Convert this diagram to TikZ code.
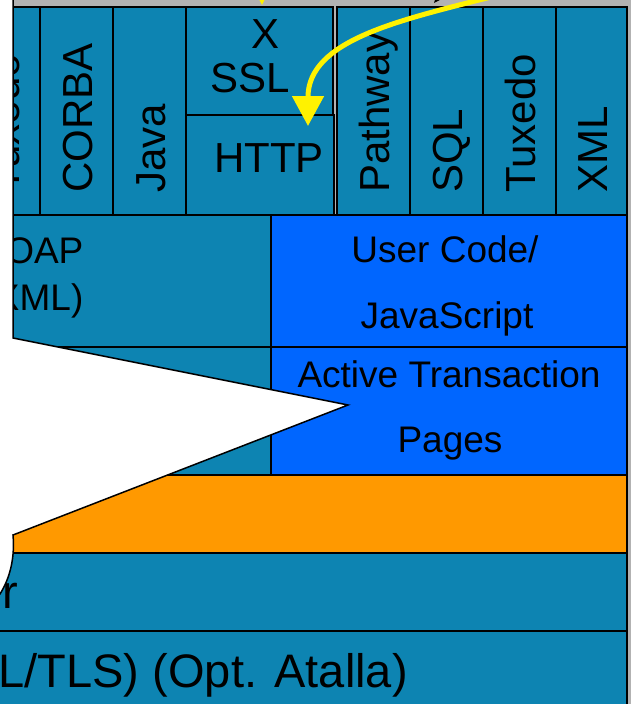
\documentclass[tikz,border=0pt]{standalone}
\usepackage{fontspec}
\setmainfont{Liberation Sans}
\usetikzlibrary{arrows.meta}
\definecolor{tealbox}{RGB}{13,132,178}
\definecolor{bluebox}{RGB}{0,102,255}
\definecolor{orangebox}{RGB}{255,153,0}
\definecolor{framegray}{RGB}{178,178,178}

\begin{document}
\begin{tikzpicture}[x=1pt,y=-1pt,
  box/.style={draw=black,line width=1.5pt,fill=tealbox},
  lbl/.style={font=\fontsize{42}{48}\selectfont,inner sep=0pt,anchor=base},
  vlbl/.style={lbl,rotate=90,anchor=base west},
  mlbl/.style={lbl,font=\fontsize{37}{42}\selectfont},
  blbl/.style={lbl,font=\fontsize{47}{52}\selectfont,anchor=base east},
  yarrow/.style={draw=yellow,line width=5pt,-{Triangle[length=30pt,width=31pt]}}]
\useasboundingbox (0,0) rectangle (631,704);
\fill[framegray] (13,0) rectangle (631,704);
% protocol columns
\foreach \a/\b/\t [count=\i] in {-33/40/Tuxedo,40/113/CORBA,113/186/Java,337/410/Pathway,410/483/SQL,483/556/Tuxedo,556/627/XML}{
  \draw[box] (\a,7) rectangle (\b,215);
  \node[vlbl] (col\i) at ({(\a+\b)/2+16},193) {\t};
}
% SSL over HTTP
\draw[box] (186,7) rectangle (333,115);
\draw[box] (186,115) rectangle (334,215);
\node[lbl] (x) at (266,48) {X};
\node[lbl] (ssl) at (250,92) {SSL};
\node[lbl] (http) at (269,172) {HTTP};
% middle layers
\draw[box] (-100,215) rectangle (271,347);
\draw[box] (-100,347) rectangle (271,475);
\draw[box,fill=bluebox] (271,215) rectangle (627,347);
\draw[box,fill=bluebox] (271,347) rectangle (627,475);
\node[mlbl] (soap) at (32,263) {SOAP};
\node[mlbl] (xml) at (33,310) {(XML)};
\node[mlbl] (user) at (445,262) {User Code/};
\node[mlbl] (js) at (447,328) {JavaScript};
\node[mlbl] (atp) at (449,387) {Active Transaction};
\node[mlbl] (pages) at (450,452) {Pages};
% lower layers
\draw[box,fill=orangebox] (-100,475) rectangle (627,553);
\draw[box] (-100,553) rectangle (627,631);
\draw[box] (-100,631) rectangle (627,720);
\node[blbl] (srv) at (18,608) {r};
\node[blbl] (tls) at (408,687) {L/TLS) (Opt. Atalla)};
% callout
\coordinate (tip) at (348,405);
\draw[line width=1.5pt,fill=white] (13,-10) -- (13,338) -- (tip) -- (13,535)
  .. controls (15,558) and (10,578) .. (0,594) -- (-20,594) -- (-20,-10) -- cycle;
% arrows
\coordinate (ysrc) at (495,-4);
\coordinate (ydst) at (308,126);
\coordinate (ysrc2) at (262,-80);
\coordinate (ydst2) at (262,5);
\coordinate (ksrc) at (470,-40);
\coordinate (kdst) at (434,3);
\draw[yarrow] (ysrc) .. controls (400,20) and (308,40) .. (ydst);
\draw[yarrow] (ysrc2) -- (ydst2);
\draw[line width=1pt,-{Triangle[length=10pt,width=8pt]}] (ksrc) -- (kdst);
\end{tikzpicture}
\end{document}
